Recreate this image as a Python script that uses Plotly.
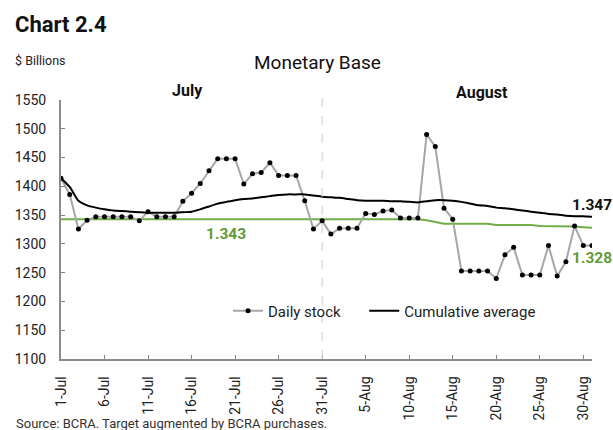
import plotly.graph_objects as go
import pandas as pd

dates = list(pd.date_range("2024-07-01", "2024-08-31", freq="D"))

daily_stock = [1414, 1386, 1326, 1341, 1347, 1347, 1347, 1347, 1347, 1340,
               1356, 1347, 1347, 1347, 1374, 1388, 1405, 1427, 1448, 1448,
               1448, 1404, 1422, 1424, 1441, 1419, 1419, 1419, 1375, 1326,
               1340, 1317, 1327, 1327, 1327, 1353, 1351, 1357, 1359, 1345,
               1345, 1345, 1490, 1469, 1362, 1343, 1253, 1253, 1253, 1253,
               1240, 1281, 1294, 1246, 1246, 1246, 1297, 1244, 1269, 1331,
               1297, 1297]

cumulative_avg = [1414, 1399, 1375, 1367, 1363, 1360, 1358, 1357, 1356, 1355,
                  1354, 1354, 1354, 1354, 1355, 1356, 1360, 1365, 1370, 1373,
                  1376, 1378, 1379, 1381, 1383, 1385, 1386, 1386, 1386, 1384,
                  1382, 1381, 1380, 1378, 1376, 1375, 1375, 1375, 1374, 1374,
                  1373, 1372, 1374, 1376, 1376, 1375, 1373, 1370, 1367, 1366,
                  1363, 1362, 1360, 1358, 1356, 1354, 1352, 1351, 1349, 1348,
                  1348, 1347]

target = [1343, 1343, 1343, 1343, 1343, 1343, 1343, 1343, 1343, 1343,
          1343, 1343, 1343, 1343, 1343, 1343, 1343, 1343, 1343, 1343,
          1343, 1343, 1343, 1343, 1343, 1343, 1343, 1343, 1343, 1343,
          1343, 1343, 1343, 1343, 1343, 1343, 1343, 1343, 1343, 1343,
          1343, 1343, 1341, 1338, 1335, 1335, 1335, 1335, 1335, 1335,
          1333, 1333, 1333, 1333, 1333, 1331, 1331, 1331, 1331, 1330,
          1329, 1328]

tick_dates = ["2024-07-01", "2024-07-06", "2024-07-11", "2024-07-16", "2024-07-21",
              "2024-07-26", "2024-07-31", "2024-08-05", "2024-08-10", "2024-08-15",
              "2024-08-20", "2024-08-25", "2024-08-30"]
tick_labels = ["1-Jul", "6-Jul", "11-Jul", "16-Jul", "21-Jul", "26-Jul", "31-Jul",
               "5-Aug", "10-Aug", "15-Aug", "20-Aug", "25-Aug", "30-Aug"]

W, H = 613, 430
L, R, T, B = 61, 592, 100, 359


def px(x):
    return (x - L) / (R - L)


def py(y):
    return (B - y) / (B - T)


FONT = "Roboto"
GREEN = "#70ad47"
GREEN_TXT = "#5f9b37"
NBSP = "\u00a0"

fig = go.Figure()
fig.add_trace(go.Scatter(x=dates, y=target, mode="lines", name="Target",
                         line=dict(color=GREEN, width=2), showlegend=False))
fig.add_trace(go.Scatter(x=dates, y=daily_stock, mode="lines+markers",
                         name="Daily stock" + NBSP * 5,
                         line=dict(color="#a6a6a6", width=2),
                         marker=dict(color="black", size=5)))
fig.add_trace(go.Scatter(x=dates, y=cumulative_avg, mode="lines", name="Cumulative average",
                         line=dict(color="black", width=2, shape="spline", smoothing=0.6)))

fig.add_shape(type="line", xref="x", yref="paper", x0="2024-07-31", x1="2024-07-31",
              y0=0, y1=py(94), line=dict(color="#cccccc", width=1, dash="dash"))

ann = [
    dict(text="<b>Chart 2.4</b>", x=px(13), y=py(25), font=dict(size=22, color="#111")),
    dict(text="$ Billions", x=px(13), y=py(60), font=dict(size=12.5, color="#222")),
    dict(text="Source: BCRA. Target augmented by BCRA purchases.", x=px(14), y=py(423),
         font=dict(size=13, color="#333")),
]
for a in ann:
    a.update(xref="paper", yref="paper", xanchor="left", yanchor="middle", showarrow=False)
    fig.add_annotation(**a)

cann = [
    dict(text="Monetary Base", x=px(317), y=py(62), font=dict(size=19, color="#111")),
    dict(text="<b>July</b>", x=px(187), y=py(90), font=dict(size=16, color="#111")),
    dict(text="<b>August</b>", x=px(482), y=py(92), font=dict(size=16, color="#111")),
    dict(text="<b>1.343</b>", x=px(226), y=py(234), font=dict(size=15.5, color=GREEN_TXT)),
    dict(text="<b>1.347</b>", x=px(592), y=py(205), font=dict(size=15.5, color="#111")),
    dict(text="<b>1.328</b>", x=px(592), y=py(258), font=dict(size=15.5, color=GREEN_TXT)),
]
for a in cann:
    a.update(xref="paper", yref="paper", xanchor="center", yanchor="middle", showarrow=False)
    fig.add_annotation(**a)

fig.update_layout(
    width=W, height=H, autosize=False,
    margin=dict(l=L, r=W - R, t=T, b=H - B, pad=0),
    paper_bgcolor="white", plot_bgcolor="white",
    font=dict(family=FONT, size=13, color="#222"),
    legend=dict(orientation="h", x=px(228), y=py(311), xanchor="left", yanchor="middle",
                font=dict(size=15, color="#222"), itemwidth=30, bgcolor="rgba(0,0,0,0)",
                traceorder="normal"),
)
fig.update_xaxes(
    range=["2024-07-01", "2024-08-31"], tickvals=tick_dates, ticktext=tick_labels,
    tickangle=-90, ticks="inside", ticklen=4, tickcolor="#808080", tickwidth=1,
    showline=True, linecolor="#8c8c8c", linewidth=1.5, showgrid=False, zeroline=False,
    tickfont=dict(size=14, color="#222"), ticklabelstandoff=10, automargin=False,
)
fig.update_yaxes(
    range=[1100, 1550], dtick=50, tick0=1100, ticks="inside", ticklen=4,
    tickcolor="#808080", tickwidth=1, showline=True, linecolor="#8c8c8c", linewidth=2,
    showgrid=False, zeroline=False, tickfont=dict(size=14, color="#222"),
    ticklabelstandoff=10, automargin=False,
)

fig.write_html("out.html", config={"displayModeBar": False},
               post_script="document.body.style.margin='0';document.body.style.overflow='hidden';")
